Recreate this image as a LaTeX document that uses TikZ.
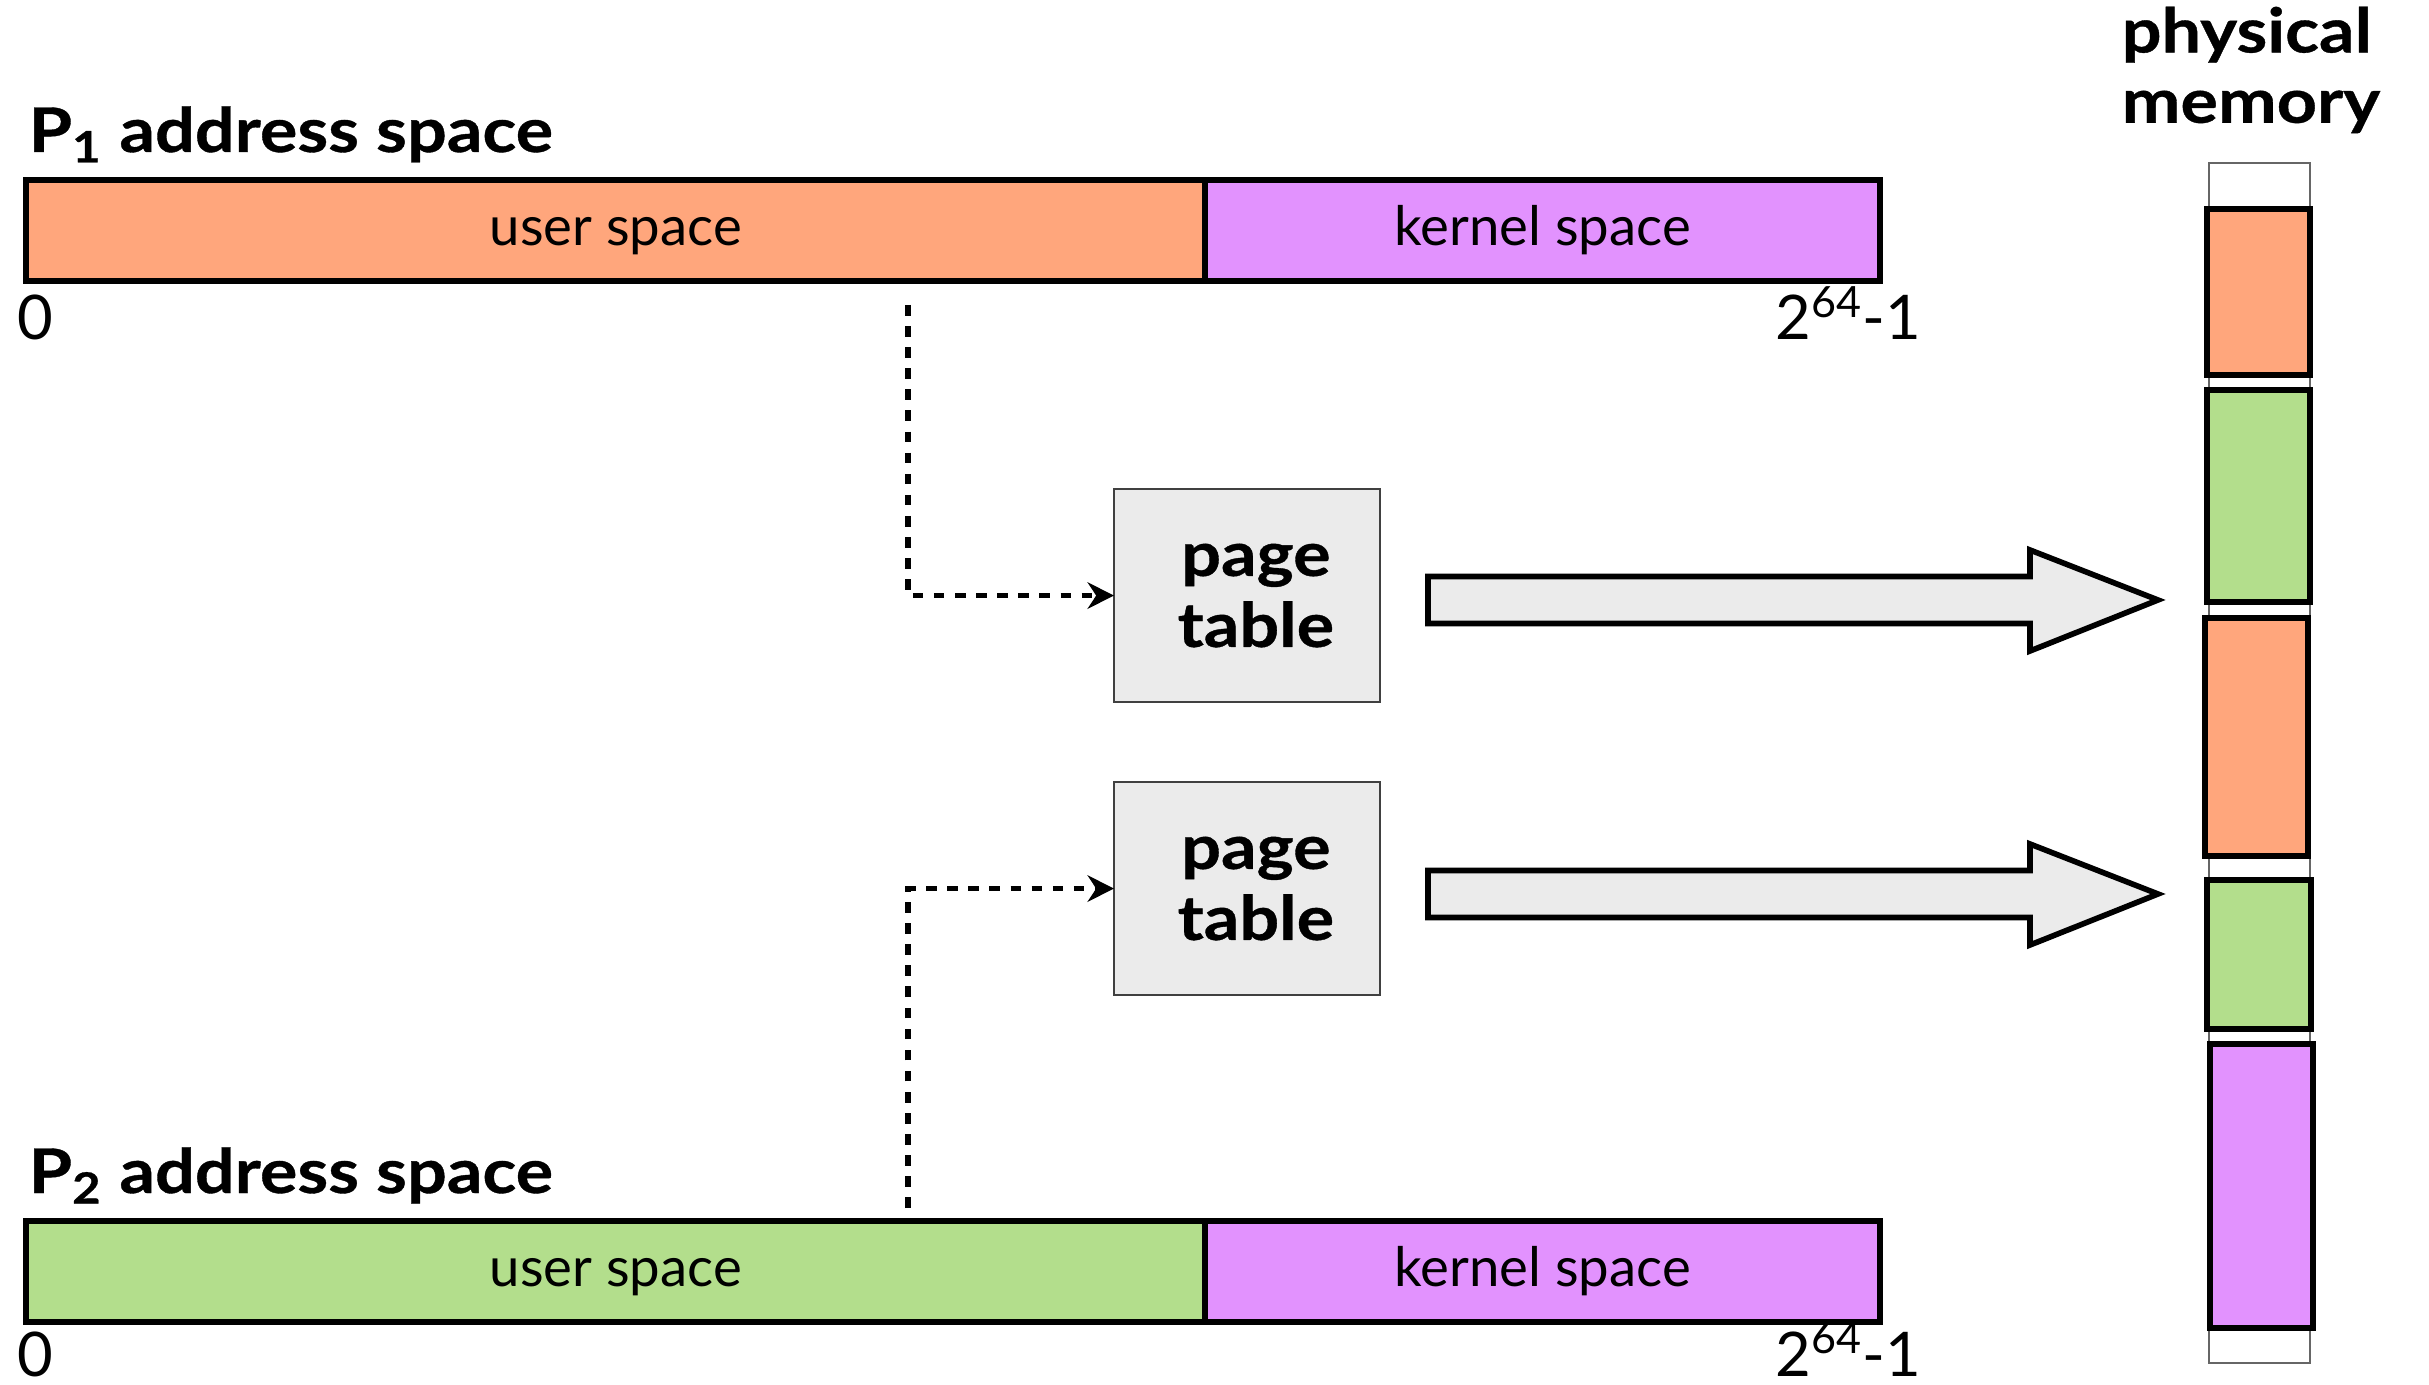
\documentclass[tikz,border=0pt]{standalone}
\usepackage{fontspec}
\setmainfont{Lato}[BoldFeatures={FakeStretch=1.14,FakeBold=0.6}]
\usetikzlibrary{arrows.meta}

\definecolor{userorange}{HTML}{FFA67C}
\definecolor{usergreen}{HTML}{B3DE8C}
\definecolor{kernpurple}{HTML}{E292FE}
\definecolor{boxgray}{HTML}{EBEBEB}

\tikzset{
  % wide block arrow from a page table towards physical memory
  bigarrow/.pic={
    \draw[line width=1.6pt, fill=boxgray, line join=miter]
      (0,-23.5) -- (602,-23.5) -- (602,-50) -- (730,0) -- (602,51)
      -- (602,23.5) -- (0,23.5) -- cycle;
  }
}

\begin{document}
\begin{tikzpicture}[x=0.01cm, y=-0.01cm,
  seg/.style={draw=black, line width=1.7pt, inner sep=0pt, outer sep=0pt,
    anchor=north west, minimum height=1.01cm,
    text height=11pt, text depth=2.6pt,
    font=\fontsize{15.5}{18}\selectfont},
  heading/.style={inner sep=0pt, anchor=base west,
    font=\fontsize{17.5}{20}\selectfont\bfseries},
  endlabel/.style={inner sep=0pt, font=\fontsize{17.5}{20}\selectfont},
  ptable/.style={draw=black!75, line width=0.5pt, fill=boxgray,
    inner sep=0pt, outer sep=0pt, anchor=north west,
    minimum width=2.66cm, minimum height=2.13cm, align=center,
    font=\fontsize{17.5}{20.2}\selectfont\bfseries},
  link/.style={line width=1.5pt, dash pattern=on 3pt off 3pt,
    -{Stealth[length=7.5pt,width=7.5pt]}},
  memblk/.style={draw=black, line width=1.7pt},
  memframe/.style={draw=black!60, line width=0.6pt, fill=white}
]
\useasboundingbox (0,0) rectangle (2429,1385);

% ---- process 1 address space ----
\node[heading] (p1) at (28,152) {P\textsubscript{1} address space};
\node[seg, fill=userorange, minimum width=11.79cm] (u1) at (26,180) {user space};
\node[seg, fill=kernpurple, minimum width=6.75cm] (k1) at (1205,180) {kernel space};
\node[endlabel, anchor=base west] (lo1) at (17,340) {0};
\node[endlabel, anchor=base east] (hi1) at (1922,340) {2\textsuperscript{64}-1};

% ---- process 2 address space ----
\node[heading] (p2) at (28,1193) {P\textsubscript{2} address space};
\node[seg, fill=usergreen, minimum width=11.79cm] (u2) at (26,1221) {user space};
\node[seg, fill=kernpurple, minimum width=6.75cm] (k2) at (1205,1221) {kernel space};
\node[endlabel, anchor=base west] (lo2) at (17,1376) {0};
\node[endlabel, anchor=base east] (hi2) at (1922,1376) {2\textsuperscript{64}-1};

% ---- page tables ----
\node[ptable] (pt1) at (1114,489) {\hspace*{5pt}page\\\hspace*{5pt}table};
\node[ptable] (pt2) at (1114,782) {\hspace*{5pt}page\\\hspace*{5pt}table};

\coordinate (s1) at (908,305);
\coordinate (s2) at (908,1208);
\draw[link] (s1) |- (pt1.west);
\draw[link] (s2) |- (pt2.west);

\pic at (1428,600) {bigarrow};
\pic at (1428,894) {bigarrow};

% ---- physical memory ----
\node[heading, anchor=north west, align=left] (pm) at (2121,6) {physical\\memory};
\draw[memframe] (2209,163) rectangle (2310,1363);
\draw[memblk, fill=userorange] (2207,209) rectangle (2310,375);
\draw[memblk, fill=usergreen]  (2207,390) rectangle (2310,602);
\draw[memblk, fill=userorange] (2205,618) rectangle (2308,856);
\draw[memblk, fill=usergreen]  (2207,880) rectangle (2311,1029);
\draw[memblk, fill=kernpurple] (2210,1044) rectangle (2313,1328);
\end{tikzpicture}
\end{document}
